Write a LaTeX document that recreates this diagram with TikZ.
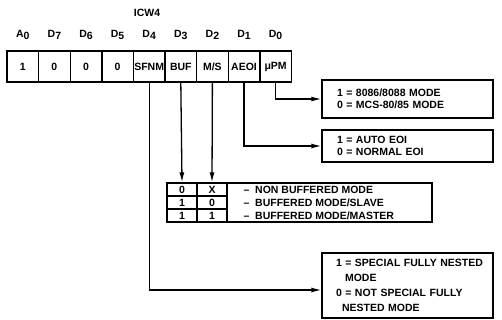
\documentclass[tikz,border=0pt]{standalone}
\usepackage{fontspec}
\setmainfont{Liberation Sans}
\usepackage{tikz}
\usetikzlibrary{arrows.meta}

\begin{document}
\begin{tikzpicture}[x=1pt, y=-1pt, font=\bfseries\fontsize{10.5}{12}\selectfont,
    cell/.style={rectangle, draw, line width=1.4pt, minimum width=31.6pt, minimum height=31pt, inner sep=0pt},
    modebox/.style={rectangle, draw, line width=1.4pt, minimum width=171pt, text width=155pt, align=left, inner xsep=8pt},
    tabcell/.style={rectangle, draw, line width=1.3pt, minimum width=30pt, minimum height=13pt, inner sep=0pt},
    wire/.style={line width=1.3pt},
    arr/.style={wire, -{Latex[length=10pt, width=5pt]}}]
    \useasboundingbox (0,0) rectangle (502,320);
    \node (icw) at (147,13) {ICW4};
    % register row
    \foreach \n/\t [count=\i from 0] in {a0/1, d7/0, d6/0, d5/0, d4/SFNM, d3/BUF, d2/{M/S}, d1/AEOI, d0/{μPM}}
        \node[cell] (\n) at (22.8+31.6*\i, 66.5) {\t};
    \foreach \n/\l/\s in {a0/A/0, d7/D/7, d6/D/6, d5/D/5, d4/D/4, d3/D/3, d2/D/2, d1/D/1, d0/D/0}
        \node (l\n) at ([yshift=15pt]\n.north) {\l\raisebox{-2pt}{\s}};
    % mode boxes
    \node[modebox, minimum height=38pt] (pm) at (407.5,99) {\hspace*{7pt}1 = 8086/8088 MODE\\\hspace*{7pt}0 = MCS-80/85 MODE};
    \node[modebox, minimum height=32pt] (eoi) at (407.5,146) {\hspace*{7pt}1 = AUTO EOI\\\hspace*{7pt}0 = NORMAL EOI};
    \node[modebox, minimum height=65pt, font=\bfseries\fontsize{10.5}{15}\selectfont] (sfnm) at (407.5,285.5) {\hspace*{6pt}1 = SPECIAL FULLY NESTED\\\hspace*{15pt}MODE\\\hspace*{6pt}0 = NOT SPECIAL FULLY\\\hspace*{12pt}NESTED MODE};
    % buffer table
    \node[tabcell] (b1) at (182,189.5) {0};
    \node[tabcell] (b2) at (182,202.5) {1};
    \node[tabcell] (b3) at (182,215.5) {1};
    \node[tabcell] (m1) at (212,189.5) {X};
    \node[tabcell] (m2) at (212,202.5) {0};
    \node[tabcell] (m3) at (212,215.5) {1};
    \node[rectangle, draw, line width=1.3pt, minimum width=205pt, minimum height=39pt, inner sep=0pt] (buf) at (329.5,202.5) {};
    \node[anchor=west] (t1) at (240,189.5) {–\ \ NON BUFFERED MODE};
    \node[anchor=west] (t2) at (240,202.5) {–\ \ BUFFERED MODE/SLAVE};
    \node[anchor=west] (t3) at (240,215.5) {–\ \ BUFFERED MODE/MASTER};
    % connectors
    \draw[arr] (d0.south) |- (pm.west);
    \draw[arr] (d1.south) |- (eoi.west);
    \draw[arr] (d3.south) -- (b1.north);
    \draw[arr] (d2.south) -- (m1.north);
    \draw[arr] (d4.south) |- ([yshift=-4.5pt]sfnm.west);
\end{tikzpicture}
\end{document}
